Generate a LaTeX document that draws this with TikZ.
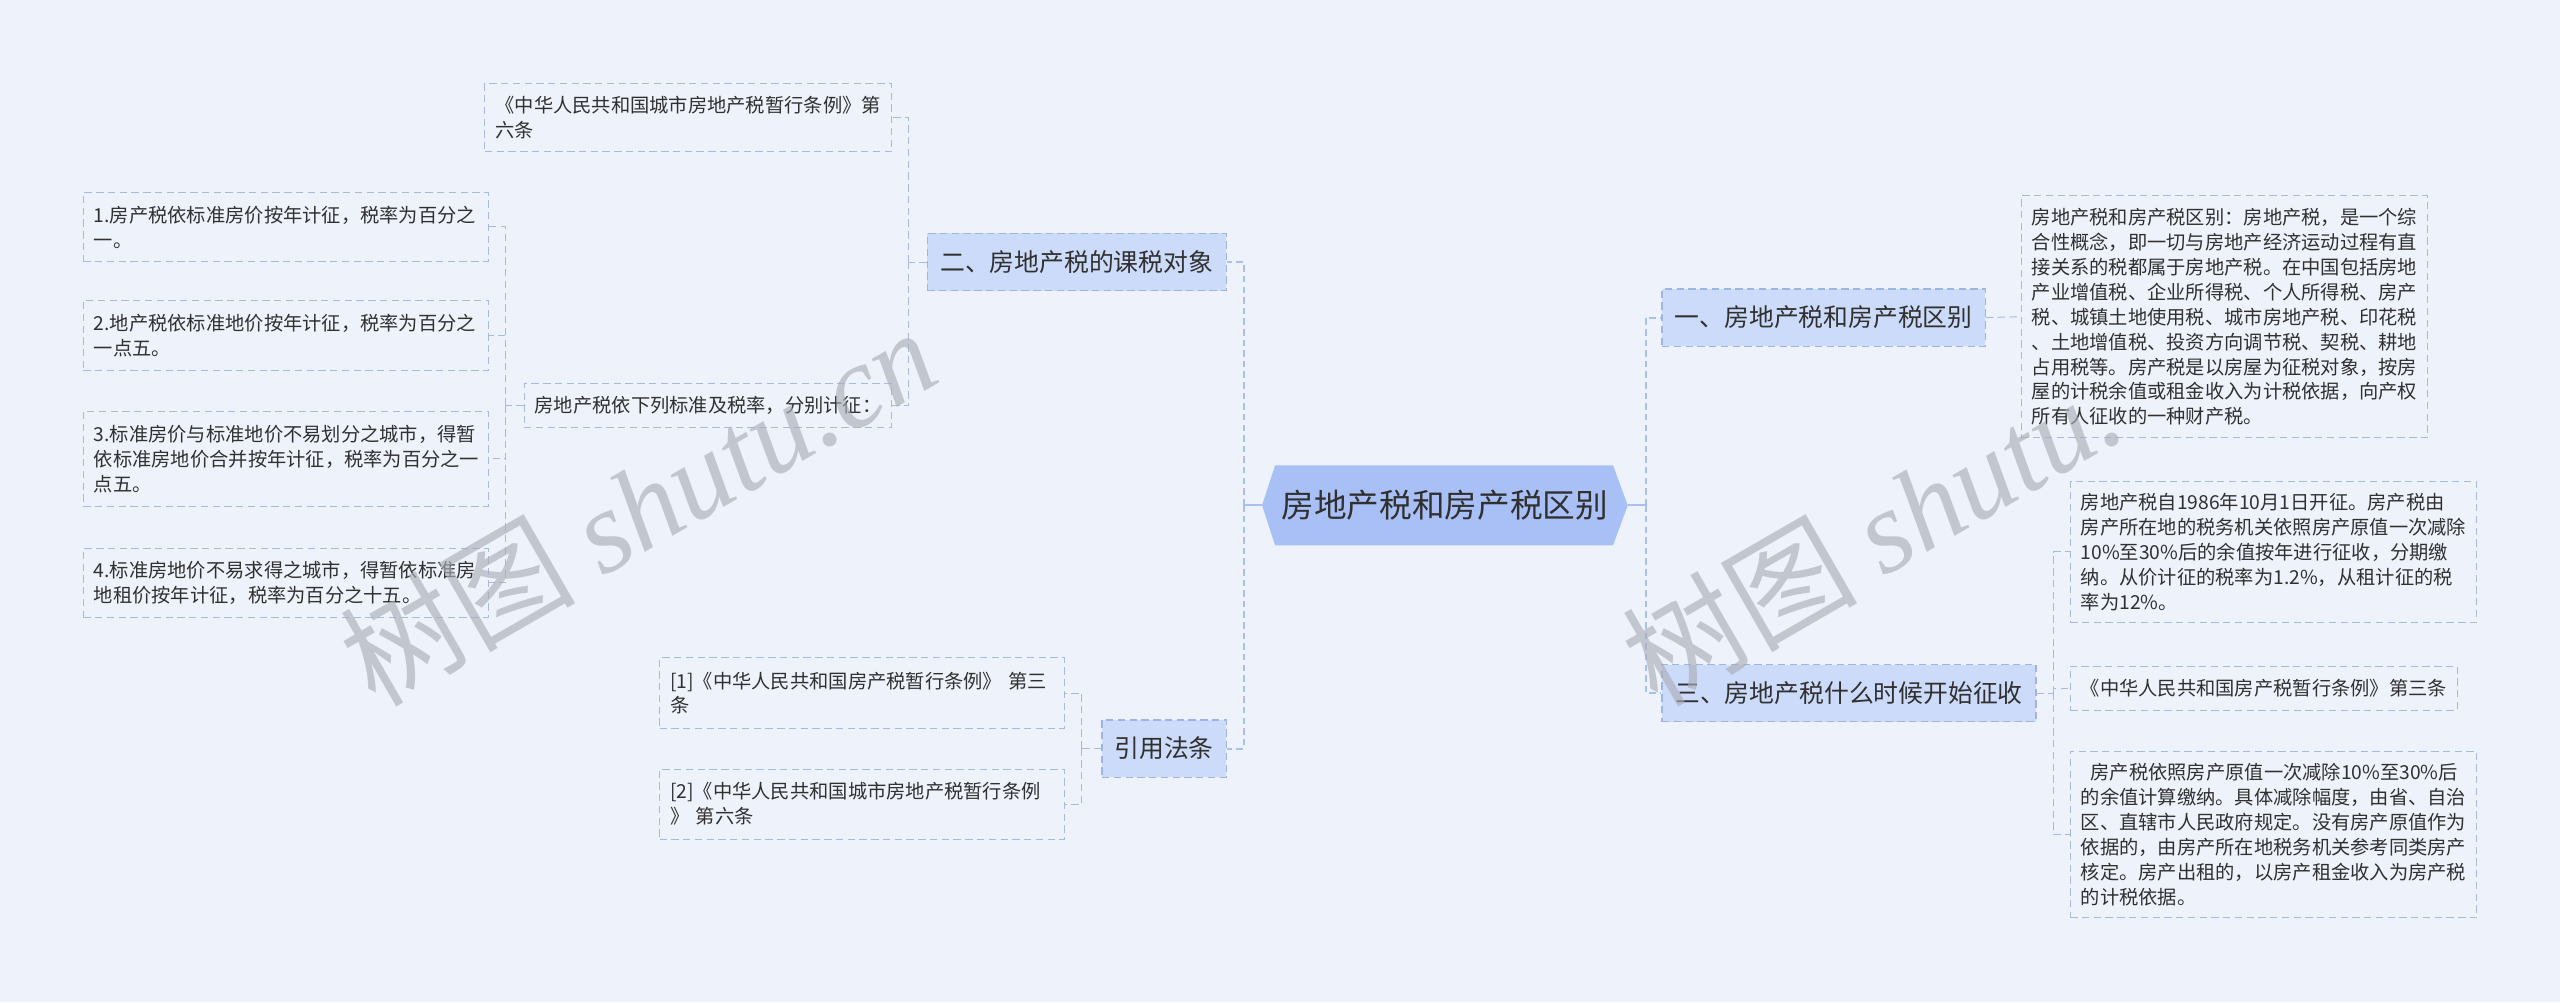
\documentclass[tikz,border=0pt]{standalone}
\usepackage{fontspec}
\setmainfont{Noto Sans CJK SC}
\newfontfamily\wmserif{Liberation Serif}
\definecolor{bg}{HTML}{EEF3FB}
\definecolor{txt}{HTML}{303030}
\definecolor{leafline}{HTML}{A9B9D8}
\definecolor{lonefill}{HTML}{CCDBF9}
\definecolor{loneline}{HTML}{9FB4E0}
\definecolor{cfill}{HTML}{A8C0F5}
\definecolor{mainc}{HTML}{A8C0EE}
\definecolor{wm}{HTML}{A9AEB8}
\begin{document}
\begin{tikzpicture}[x=1pt,y=-1pt,
  leaf/.style={draw=leafline, line width=0.6pt, dash pattern=on 4.5pt off 2.7pt,
    text=txt, align=left, inner xsep=6.5pt, inner ysep=0pt,
    font=\fontsize{11.8}{15.3}\selectfont},
  lone/.style={draw=loneline, fill=lonefill, line width=0.7pt, dash pattern=on 4.5pt off 2.7pt,
    text=txt, align=center, inner sep=0pt, font=\fontsize{15.2}{18}\selectfont},
  conn/.style={draw=leafline, line width=0.6pt, dash pattern=on 4.5pt off 2.7pt},
  mconn/.style={draw=mainc, line width=1.2pt, dash pattern=on 4pt off 2.5pt},
  mstub/.style={draw=mainc, line width=1.2pt},
  wmark/.style={text=wm, opacity=0.65, rotate=30, anchor=base west, inner sep=0pt,
    font=\fontsize{72}{80}\selectfont}
]
\fill[bg] (0,0) rectangle (1568,614);
\useasboundingbox (0,0) rectangle (1568,614);

% central hexagon
\fill[cfill] (773,309.5) -- (781,285) -- (988,285) -- (997,309.5) -- (988,334) -- (781,334) -- cycle;
\node[text=txt, font=\fontsize{20}{24}\selectfont, minimum width=224pt, minimum height=49pt, inner sep=0pt] (c) at (885,309.5) {房地产税和房产税区别};

% first level
\node[lone, minimum width=183pt, minimum height=35pt] (n2) at (659.5,160.5) {二、房地产税的课税对象};
\node[lone, minimum width=76pt, minimum height=35pt] (nref) at (713,458.5) {引用法条};
\node[lone, minimum width=198pt, minimum height=35pt] (n1) at (1117,194.5) {一、房地产税和房产税区别};
\node[lone, minimum width=229pt, minimum height=35pt] (n3) at (1132.5,424.5) {三、房地产税什么时候开始征收};

% left leaves
\node[leaf, text width=236pt, minimum height=42pt] (l6) at (421.5,72) {《中华人民共和国城市房地产税暂行条例》第\\六条};
\node[leaf, text width=212pt, minimum height=27pt] (lst) at (433.5,248.5) {房地产税依下列标准及税率，分别计征：};
\node[leaf, text width=235pt, minimum height=42pt] (i1) at (175,139) {1.房产税依标准房价按年计征，税率为百分之\\一。};
\node[leaf, text width=235pt, minimum height=43pt] (i2) at (175,205.5) {2.地产税依标准地价按年计征，税率为百分之\\一点五。};
\node[leaf, text width=235pt, minimum height=58pt] (i3) at (175,281) {3.标准房价与标准地价不易划分之城市，得暂\\依标准房地价合并按年计征，税率为百分之一\\点五。};
\node[leaf, text width=235pt, minimum height=42pt] (i4) at (175,357) {4.标准房地价不易求得之城市，得暂依标准房\\地租价按年计征，税率为百分之十五。};
\node[leaf, text width=235pt, minimum height=43pt] (r1) at (528,424.5) {[1]《中华人民共和国房产税暂行条例》 第三\\条};
\node[leaf, text width=235pt, minimum height=43pt] (r2) at (528,492.5) {[2]《中华人民共和国城市房地产税暂行条例\\》 第六条};

% right leaves
\node[leaf, text width=236pt, minimum height=148pt] (t1) at (1362.5,194) {房地产税和房产税区别：房地产税，是一个综\\合性概念，即一切与房地产经济运动过程有直\\接关系的税都属于房地产税。在中国包括房地\\产业增值税、企业所得税、个人所得税、房产\\税、城镇土地使用税、城市房地产税、印花税\\、土地增值税、投资方向调节税、契税、耕地\\占用税等。房产税是以房屋为征税对象，按房\\屋的计税余值或租金收入为计税依据，向产权\\所有人征收的一种财产税。};
\node[leaf, text width=236pt, minimum height=86pt] (a1) at (1392.5,338) {房地产税自1986年10月1日开征。房产税由\\房产所在地的税务机关依照房产原值一次减除\\10\%至30\%后的余值按年进行征收，分期缴\\纳。从价计征的税率为1.2\%，从租计征的税\\率为12\%。};
\node[leaf, text width=224pt, minimum height=27pt] (a2) at (1386.5,421.5) {《中华人民共和国房产税暂行条例》第三条};
\node[leaf, text width=236pt, minimum height=102pt] (a3) at (1392.5,511) {\hspace*{6pt}房产税依照房产原值一次减除10\%至30\%后\\的余值计算缴纳。具体减除幅度，由省、自治\\区、直辖市人民政府规定。没有房产原值作为\\依据的，由房产所在地税务机关参考同类房产\\核定。房产出租的，以房产租金收入为房产税\\的计税依据。};

% main connectors
\draw[mstub] (c.west) -- ++(-11,0) coordinate (cl);
\draw[mconn] (cl) |- (n2.east);
\draw[mconn] (cl) |- (nref.east);
\draw[mstub] (c.east) -- ++(11,0) coordinate (cr);
\draw[mconn] (cr) |- (n1.west);
\draw[mconn] (cr) |- (n3.west);

% second-level connectors
\draw[conn] (n2.west) -- ++(-11,0) coordinate (b2);
\draw[conn] (b2) |- (l6.east);
\draw[conn] (b2) |- (lst.east);
\draw[conn] (lst.west) -- ++(-11,0) coordinate (b3);
\draw[conn] (b3) |- (i1.east);
\draw[conn] (b3) |- (i2.east);
\draw[conn] (b3) |- (i3.east);
\draw[conn] (b3) |- (i4.east);
\draw[conn] (nref.west) -- ++(-12,0) coordinate (br);
\draw[conn] (br) |- (r1.east);
\draw[conn] (br) |- (r2.east);
\draw[conn] (n1.east) -- (t1.west);
\draw[conn] (n3.east) -- ++(10.5,0) coordinate (b4);
\draw[conn] (b4) |- (a1.west);
\draw[conn] (b4) |- (a2.west);
\draw[conn] (b4) |- (a3.west);

% watermarks
\node[wmark] (wm1) at (230,434) {树图 {\wmserif\itshape shutu.cn}};
\node[wmark] (wm2) at (1015,434) {树图 {\wmserif\itshape shutu.}};
\end{tikzpicture}
\end{document}
